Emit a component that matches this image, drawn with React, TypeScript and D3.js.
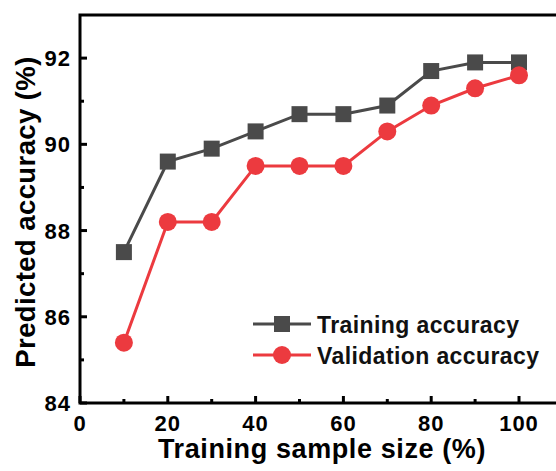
import { useEffect, useRef } from 'react';
import * as d3 from 'd3';

const sampleSizes = [10, 20, 30, 40, 50, 60, 70, 80, 90, 100];
const trainingAcc = [87.5, 89.6, 89.9, 90.3, 90.7, 90.7, 90.9, 91.7, 91.9, 91.9];
const validationAcc = [85.4, 88.2, 88.2, 89.5, 89.5, 89.5, 90.3, 90.9, 91.3, 91.6];
const xTicks = [0, 20, 40, 60, 80, 100];
const xMinor = [10, 30, 50, 70, 90];
const yTicks = [84, 86, 88, 90, 92];
const yMinor = [85, 87, 89, 91];

const W = 556;
const H = 471;

const App = () => {
  const ref = useRef<SVGSVGElement>(null);

  useEffect(() => {
    const svg = d3.select(ref.current);
    svg.selectAll('*').remove();

    const margin = { top: 15, left: 80, bottom: 68 };
    const x = d3.scaleLinear().domain([0, 110]).range([margin.left, margin.left + 110 * 4.39]);
    const y = d3.scaleLinear().domain([84, 93]).range([H - margin.bottom, margin.top]);
    const font = 'Arial, "Liberation Sans", sans-serif';

    // frame
    svg.append('rect')
      .attr('x', x(0)).attr('y', y(93))
      .attr('width', x(110) - x(0)).attr('height', y(84) - y(93))
      .attr('fill', 'none').attr('stroke', '#000').attr('stroke-width', 3);

    // ticks (inward)
    const g = svg.append('g').attr('stroke', '#000').attr('stroke-width', 3);
    xTicks.forEach(t => g.append('line').attr('x1', x(t)).attr('x2', x(t)).attr('y1', y(84)).attr('y2', y(84) - 7));
    xMinor.forEach(t => g.append('line').attr('x1', x(t)).attr('x2', x(t)).attr('y1', y(84)).attr('y2', y(84) - 4));
    yTicks.forEach(t => g.append('line').attr('x1', x(0)).attr('x2', x(0) + 7).attr('y1', y(t)).attr('y2', y(t)));
    yMinor.forEach(t => g.append('line').attr('x1', x(0)).attr('x2', x(0) + 4).attr('y1', y(t)).attr('y2', y(t)));

    // tick labels
    svg.append('g').selectAll('text').data(xTicks).join('text')
      .attr('x', d => x(d)).attr('y', y(84) + 28)
      .attr('text-anchor', 'middle')
      .attr('font-family', font).attr('font-weight', 'bold').attr('font-size', 22)
      .attr('letter-spacing', 1)
      .text(d => d);
    svg.append('g').selectAll('text').data(yTicks).join('text')
      .attr('x', x(0) - 9).attr('y', d => y(d) + 8)
      .attr('text-anchor', 'end')
      .attr('font-family', font).attr('font-weight', 'bold').attr('font-size', 22)
      .attr('letter-spacing', 1)
      .text(d => d);

    // axis titles
    svg.append('text')
      .attr('x', 322).attr('y', 458)
      .attr('text-anchor', 'middle')
      .attr('font-family', font).attr('font-weight', 'bold').attr('font-size', 27)
      .attr('letter-spacing', 0.6)
      .text('Training sample size (%)');
    svg.append('text')
      .attr('transform', `translate(35,${(y(84) + y(93)) / 2 + 3}) rotate(-90)`)
      .attr('text-anchor', 'middle')
      .attr('font-family', font).attr('font-weight', 'bold').attr('font-size', 27.5)
      .attr('letter-spacing', 0.4)
      .text('Predicted accuracy (%)');

    const series = [
      { name: 'Training accuracy', values: trainingAcc, color: '#4a4a4a', shape: 'square' },
      { name: 'Validation accuracy', values: validationAcc, color: '#ec3a3f', shape: 'circle' },
    ];

    series.forEach(s => {
      const pts: [number, number][] = sampleSizes.map((d, i) => [x(d), y(s.values[i])]);
      svg.append('path')
        .attr('d', d3.line()(pts))
        .attr('fill', 'none').attr('stroke', s.color).attr('stroke-width', 3);
      pts.forEach(([px, py]) => {
        if (s.shape === 'square') {
          svg.append('rect').attr('x', px - 8).attr('y', py - 8).attr('width', 16).attr('height', 16).attr('fill', s.color);
        } else {
          svg.append('circle').attr('cx', px).attr('cy', py).attr('r', 9).attr('fill', s.color);
        }
      });
    });

    // legend
    series.forEach((s, i) => {
      const ly = 324 + i * 31;
      const lg = svg.append('g');
      lg.append('line').attr('x1', 253).attr('x2', 311).attr('y1', ly).attr('y2', ly)
        .attr('stroke', s.color).attr('stroke-width', 3);
      if (s.shape === 'square') {
        lg.append('rect').attr('x', 274).attr('y', ly - 8).attr('width', 16).attr('height', 16).attr('fill', s.color);
      } else {
        lg.append('circle').attr('cx', 282).attr('cy', ly).attr('r', 9).attr('fill', s.color);
      }
      lg.append('text').attr('x', 317).attr('y', ly + 9)
        .attr('font-family', font).attr('font-weight', 'bold').attr('font-size', 23)
        .attr('letter-spacing', 0.4)
        .attr('fill', '#111')
        .text(s.name);
    });
  }, []);

  return (
    <svg ref={ref} width={W} height={H}
      style={{ position: 'absolute', top: 0, left: 0, background: '#fff' }} />
  );
};

export default App;
